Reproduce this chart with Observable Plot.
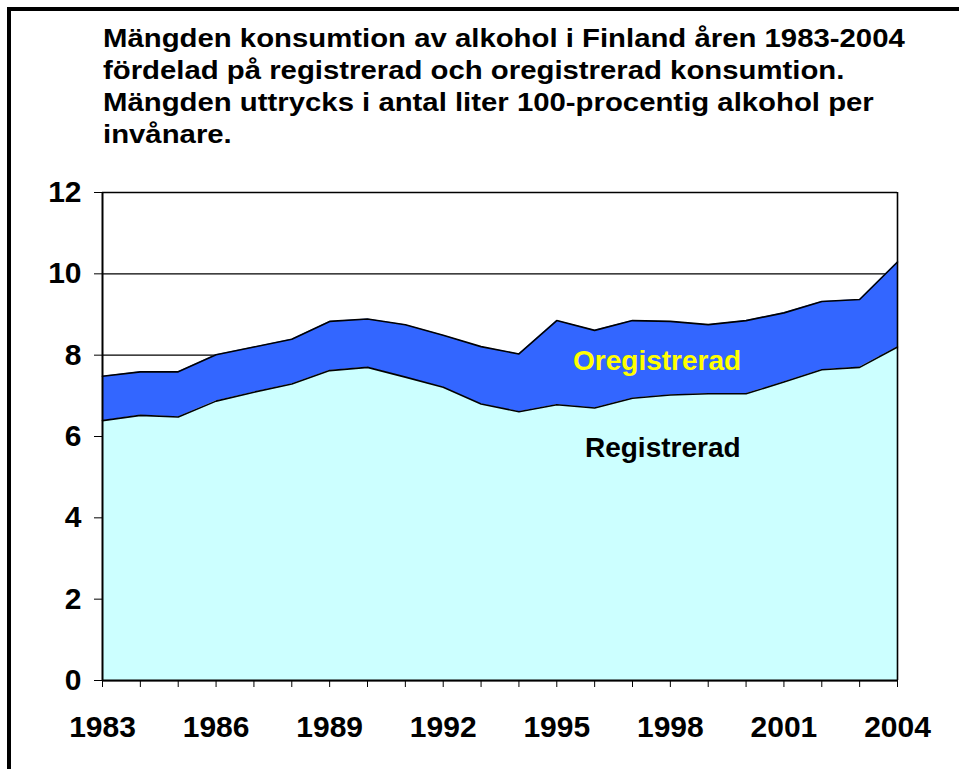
<!DOCTYPE html>
<html>
<head>
<meta charset="utf-8">
<script src="https://cdn.jsdelivr.net/npm/d3@7"></script>
<script src="https://cdn.jsdelivr.net/npm/@observablehq/plot@0.6"></script>
<style>
html, body { margin: 0; padding: 0; background: #fff; overflow: hidden; }
#wrap { position: relative; width: 959px; height: 769px; overflow: hidden; font-family: Arial, "Liberation Sans", sans-serif; color: #000; }
#frame { position: absolute; left: 7px; top: 7px; width: 1200px; height: 1200px; border: 4px solid #000; box-sizing: border-box; }
#title { position: absolute; left: 103px; top: 22px; font-weight: bold; font-size: 25px; line-height: 32px; white-space: nowrap; transform-origin: 0 0; transform: scaleX(1.173); }
#chart { position: absolute; left: 0; top: 0; }
#chart svg text { font-weight: bold; }
</style>
</head>
<body>
<div id="wrap">
  <div id="frame"></div>
  <div id="title">Mängden konsumtion av alkohol i Finland åren 1983-2004<br>fördelad på registrerad och oregistrerad konsumtion.<br>Mängden uttrycks i antal liter 100-procentig alkohol per<br>invånare.</div>
  <div id="chart"></div>
</div>
<script>
const years = [1983,1984,1985,1986,1987,1988,1989,1990,1991,1992,1993,1994,1995,1996,1997,1998,1999,2000,2001,2002,2003,2004];
const registrerad = [6.39,6.52,6.48,6.87,7.09,7.29,7.62,7.70,7.46,7.21,6.80,6.61,6.78,6.70,6.94,7.02,7.05,7.05,7.34,7.64,7.70,8.20];
const oregistrerad = [1.09,1.07,1.11,1.14,1.11,1.10,1.21,1.19,1.29,1.28,1.41,1.42,2.07,1.91,1.91,1.81,1.70,1.80,1.70,1.68,1.67,2.09];
const yTicks = [0,2,4,6,8,10,12];
const xLabelYears = [1983,1986,1989,1992,1995,1998,2001,2004];
const seriesLabels = ["Oregistrerad","Registrerad"];
const labelX = [1997.65, 1997.8];
const labelY = [7.86, 5.72];
const labelColors = ["#FFFF00", "#000000"];

const data = years.map((year, i) => ({year, reg: registrerad[i], total: registrerad[i] + oregistrerad[i]}));
const labels = seriesLabels.map((text, i) => ({text, x: labelX[i], y: labelY[i], fill: labelColors[i]}));

const chart = Plot.plot({
  width: 959,
  height: 769,
  marginLeft: 102,
  marginRight: 62,
  marginTop: 192,
  marginBottom: 89,
  style: {fontFamily: 'Arial, "Liberation Sans", sans-serif', background: "transparent", color: "#000", overflow: "visible"},
  x: {domain: [1983, 2004]},
  y: {domain: [0, 12]},
  marks: [
    Plot.ruleY(yTicks, {stroke: "#000", strokeWidth: 1.3}),
    Plot.areaY(data, {x: "year", y1: 0, y2: "reg", fill: "#CCFFFF", curve: "linear"}),
    Plot.areaY(data, {x: "year", y1: "reg", y2: "total", fill: "#3366FF", curve: "linear"}),
    Plot.lineY(data, {x: "year", y: "reg", stroke: "#000", strokeWidth: 1.6}),
    Plot.lineY(data, {x: "year", y: "total", stroke: "#000", strokeWidth: 1.6}),
    Plot.ruleX([2004], {y1: 0, y2: 12, stroke: "#000", strokeWidth: 1.6}),
    Plot.ruleX([1983], {y1: 0, y2: 12, stroke: "#000", strokeWidth: 2}),
    Plot.ruleY([0], {stroke: "#000", strokeWidth: 2}),
    Plot.axisY({ticks: yTicks, tickSize: 8, tickPadding: 13, fontSize: 30, tickFormat: d => String(d), label: null}),
    Plot.axisX({ticks: years, tickSize: 7, tickPadding: 28, fontSize: 30, tickFormat: d => xLabelYears.includes(d) ? String(d) : "", label: null}),
    Plot.text(labels, {x: "x", y: "y", text: "text", fill: d => d.fill, fontSize: 28, fontWeight: "bold", textAnchor: "middle"})
  ]
});
document.getElementById("chart").appendChild(chart);
</script>
</body>
</html>
